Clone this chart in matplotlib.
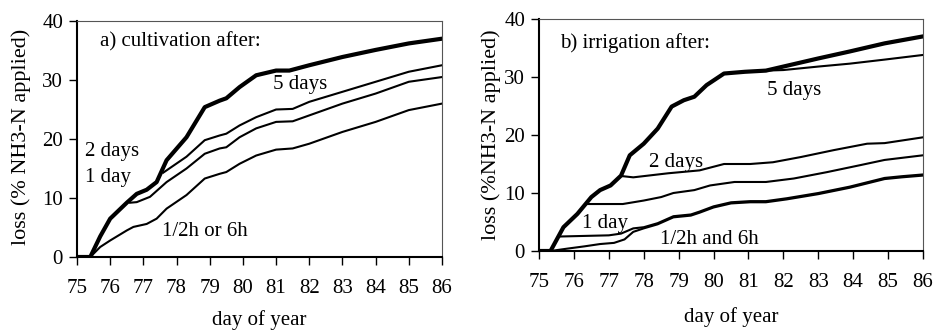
import matplotlib
matplotlib.use("Agg")
import matplotlib.pyplot as plt

# a) cultivation after
cult_5d_x = [75, 75.4, 75.7, 76, 76.5, 76.8, 77.1, 77.4, 77.7, 78.3, 78.85, 79.3, 79.5, 79.9, 80.4, 81, 81.4, 82, 83, 84, 85, 86]
cult_5d_y = [0, 0, 3.5, 6.5, 9.2, 10.7, 11.4, 12.7, 16.4, 20.3, 25.4, 26.5, 26.9, 28.8, 30.8, 31.6, 31.6, 32.5, 33.9, 35.1, 36.2, 37.0]

cult_2d_x = [77.6, 78.3, 78.85, 79.3, 79.5, 79.9, 80.4, 81, 81.5, 82, 83, 84, 85, 86]
cult_2d_y = [14.3, 17.0, 19.8, 20.6, 20.9, 22.3, 23.7, 25.0, 25.1, 26.3, 28.0, 29.7, 31.4, 32.5]

cult_1d_x = [76.6, 76.8, 77.2, 77.7, 78.3, 78.85, 79.3, 79.5, 79.9, 80.4, 81, 81.5, 82, 83, 84, 85, 86]
cult_1d_y = [9.2, 9.3, 10.2, 12.7, 15.0, 17.5, 18.4, 18.6, 20.3, 21.8, 22.9, 23.0, 24.0, 26.0, 27.7, 29.7, 30.5]

cult_6h_x = [75, 75.4, 75.7, 76, 76.5, 76.7, 77.1, 77.4, 77.7, 78.3, 78.85, 79.3, 79.5, 79.9, 80.4, 81, 81.5, 82, 83, 84, 85, 86]
cult_6h_y = [0, 0, 1.7, 2.8, 4.5, 5.1, 5.6, 6.5, 8.2, 10.5, 13.3, 14.1, 14.4, 15.8, 17.2, 18.2, 18.4, 19.2, 21.2, 22.9, 24.9, 26.0]

# b) irrigation after
irr_ref_x = [75, 75.33, 75.7, 76.1, 76.5, 76.75, 77.05, 77.35, 77.6, 78, 78.4, 78.8, 79.15, 79.45, 79.8, 80.3, 80.9, 81.5, 82, 83, 83.9, 84.9, 86]
irr_ref_y = [0, 0, 4.1, 6.4, 9.3, 10.5, 11.3, 13.0, 16.5, 18.5, 21.1, 24.9, 26.0, 26.6, 28.6, 30.6, 30.9, 31.1, 31.8, 33.2, 34.4, 35.8, 37.0]

irr_5d_x = [81.5, 82, 83, 83.9, 84.9, 86]
irr_5d_y = [31.1, 31.2, 31.8, 32.3, 33.0, 33.8]

irr_2d_x = [77.4, 77.7, 78.7, 79.6, 80.3, 81.05, 81.7, 82.5, 83.45, 84.4, 84.9, 86]
irr_2d_y = [12.9, 12.7, 13.4, 13.9, 15.0, 15.0, 15.3, 16.2, 17.4, 18.5, 18.6, 19.6]

irr_1d_x = [76.4, 76.8, 77.4, 78, 78.5, 78.85, 79.45, 79.9, 80.6, 81.5, 82.3, 83.25, 84.2, 84.9, 86]
irr_1d_y = [8.1, 8.1, 8.1, 8.7, 9.3, 10.0, 10.5, 11.3, 11.9, 11.9, 12.5, 13.6, 14.8, 15.7, 16.5]

irr_6h_x = [75.6, 76.3, 77.0, 77.35, 77.7, 78, 78.4, 78.85, 79.35, 79.6, 80, 80.5, 81.05, 81.5, 82.1, 83, 83.9, 84.9, 85.4, 86]
irr_6h_y = [2.5, 2.6, 2.7, 3.0, 3.9, 4.1, 4.8, 6.0, 6.3, 6.8, 7.7, 8.4, 8.6, 8.6, 9.1, 10.0, 11.1, 12.6, 12.9, 13.2]

irr_half_x = [75, 75.33, 75.8, 76.3, 76.75, 77.15, 77.45, 77.7, 78, 78.4, 78.85, 79.35, 79.6, 80, 80.5, 81.05, 81.5, 82.1, 83, 83.9, 84.9, 85.4, 86]
irr_half_y = [0, 0, 0.4, 0.8, 1.2, 1.4, 2.0, 3.3, 3.9, 4.6, 5.8, 6.1, 6.6, 7.5, 8.2, 8.4, 8.4, 8.9, 9.8, 10.9, 12.4, 12.7, 13.0]

days = list(range(75, 87))

plt.rcParams["font.family"] = ["Liberation Serif", "DejaVu Serif"]

fig = plt.figure(figsize=(9.37, 3.31), dpi=100)
ax1 = fig.add_axes([77 / 937, 1 - 257 / 331, 365 / 937, 236 / 331])
ax2 = fig.add_axes([539 / 937, 1 - 251 / 331, 384 / 937, 232 / 331])

thin = 1.5
thick = 3.0

ax1.plot(cult_6h_x, cult_6h_y, color="black", lw=thin)
ax1.plot(cult_1d_x, cult_1d_y, color="black", lw=thin)
ax1.plot(cult_2d_x, cult_2d_y, color="black", lw=thin)
ax1.plot(cult_5d_x, cult_5d_y, color="black", lw=thick)

ax2.plot(irr_half_x, irr_half_y, color="black", lw=thin)
ax2.plot(irr_6h_x, irr_6h_y, color="black", lw=thin)
ax2.plot(irr_1d_x, irr_1d_y, color="black", lw=thin)
ax2.plot(irr_2d_x, irr_2d_y, color="black", lw=thin)
ax2.plot(irr_5d_x, irr_5d_y, color="black", lw=thin)
ax2.plot(irr_ref_x, irr_ref_y, color="black", lw=thick)

fs = 15
ax1.text(75.7, 36.4, "a) cultivation after:", fontsize=fs, va="center")
ax1.text(80.9, 29.2, "5 days", fontsize=fs, va="center")
ax1.text(75.24, 17.8, "2 days", fontsize=fs, va="center")
ax1.text(75.24, 13.4, "1 day", fontsize=fs, va="center")
ax1.text(77.56, 4.3, "1/2h or 6h", fontsize=fs, va="center")

ax2.text(75.6, 35.9, "b) irrigation after:", fontsize=fs, va="center")
ax2.text(81.53, 27.6, "5 days", fontsize=fs, va="center")
ax2.text(78.15, 15.3, "2 days", fontsize=fs, va="center")
ax2.text(76.23, 4.8, "1 day", fontsize=fs, va="center")
ax2.text(78.47, 1.9, "1/2h and 6h", fontsize=fs, va="center")

for ax, ylab in [(ax1, "loss (% NH3-N applied)"), (ax2, "loss (%NH3-N applied)")]:
    ax.set_xlim(75, 86)
    ax.set_ylim(0, 40)
    ax.set_xticks(days)
    ax.set_yticks([0, 10, 20, 30, 40])
    ax.tick_params(axis="x", direction="out", length=6, width=1, pad=10, labelsize=15)
    ax.tick_params(axis="y", direction="out", length=6, width=1, pad=4, labelsize=15)
    ax.spines["left"].set_linewidth(1.5)
    ax.spines["bottom"].set_linewidth(1.5)
    for s in ("top", "right"):
        ax.spines[s].set_linewidth(0.8)
        ax.spines[s].set_color("#555555")
    ax.set_xlabel("day of year", fontsize=15)
    ax.set_ylabel(ylab, fontsize=16)

ax1.xaxis.set_label_coords(0.5, -0.225)
ax2.xaxis.set_label_coords(0.5, -0.24)
ax1.yaxis.set_label_coords(-0.125, 0.51)
ax2.yaxis.set_label_coords(-0.10, 0.5)

fig.savefig("out.png", dpi=100)
